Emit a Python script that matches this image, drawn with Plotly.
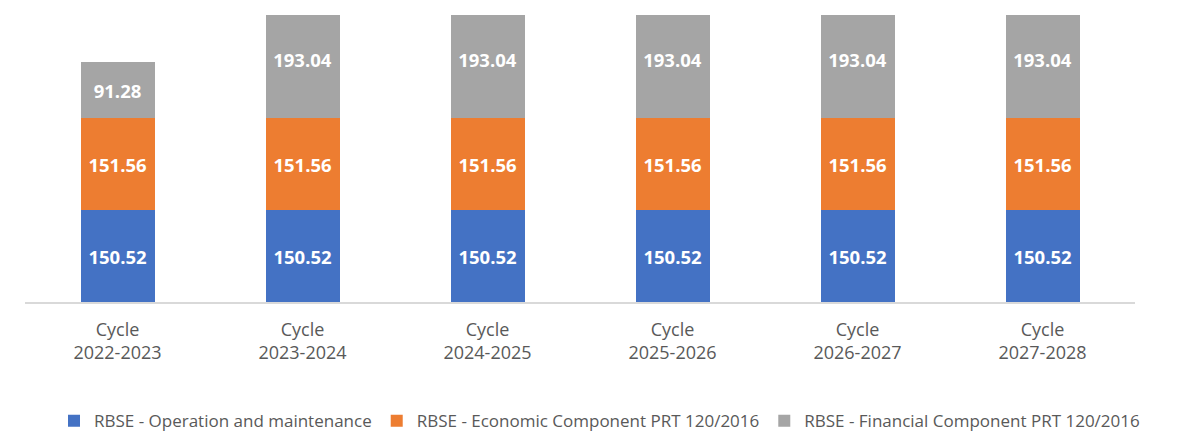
import plotly.graph_objects as go

ciclos = ["Cycle<br>2022-2023", "Cycle<br>2023-2024", "Cycle<br>2024-2025",
          "Cycle<br>2025-2026", "Cycle<br>2026-2027", "Cycle<br>2027-2028"]
operacao = [150.52, 150.52, 150.52, 150.52, 150.52, 150.52]
economico = [151.56, 151.56, 151.56, 151.56, 151.56, 151.56]
financeiro = [91.28, 193.04, 193.04, 193.04, 193.04, 193.04]

series = [
    ("RBSE - Operation and maintenance", operacao, "#4472C4"),
    ("RBSE - Economic Component PRT 120/2016", economico, "#ED7D31"),
    ("RBSE - Financial Component PRT 120/2016", financeiro, "#A5A5A5"),
]

fig = go.Figure()
for nome, valores, cor in series:
    fig.add_trace(go.Bar(
        x=ciclos, y=valores, name=nome,
        marker=dict(color=cor, line=dict(width=0)),
        text=[f"{v:.2f}" for v in valores],
        textposition="inside", insidetextanchor="middle",
        textfont=dict(family="Open Sans", size=18.5, color="white", weight="bold"),
        constraintext="none",
    ))

fig.update_layout(
    barmode="stack",
    bargap=0.6,
    width=1199, height=432,
    margin=dict(l=25, r=64, t=15, b=130),
    plot_bgcolor="white", paper_bgcolor="white",
    font=dict(family="Open Sans", color="#595959"),
    legend=dict(
        orientation="h", xref="container", yref="container",
        x=0.5, xanchor="center", y=0.025, yanchor="middle",
        font=dict(size=17, color="#595959"),
        traceorder="normal",
    ),
)
fig.update_xaxes(
    showline=True, linecolor="#D9D9D9", linewidth=2,
    ticks="", tickfont=dict(size=18, color="#595959"),
    ticklabelstandoff=10,
    showgrid=False, zeroline=False,
)
fig.update_yaxes(
    range=[0, 471], visible=False, showgrid=False, zeroline=False,
)

# sem margem do body, para a figura ocupar a janela toda
fig.write_html("out.html", config={"displayModeBar": False},
               post_script="document.body.style.margin='0';")
